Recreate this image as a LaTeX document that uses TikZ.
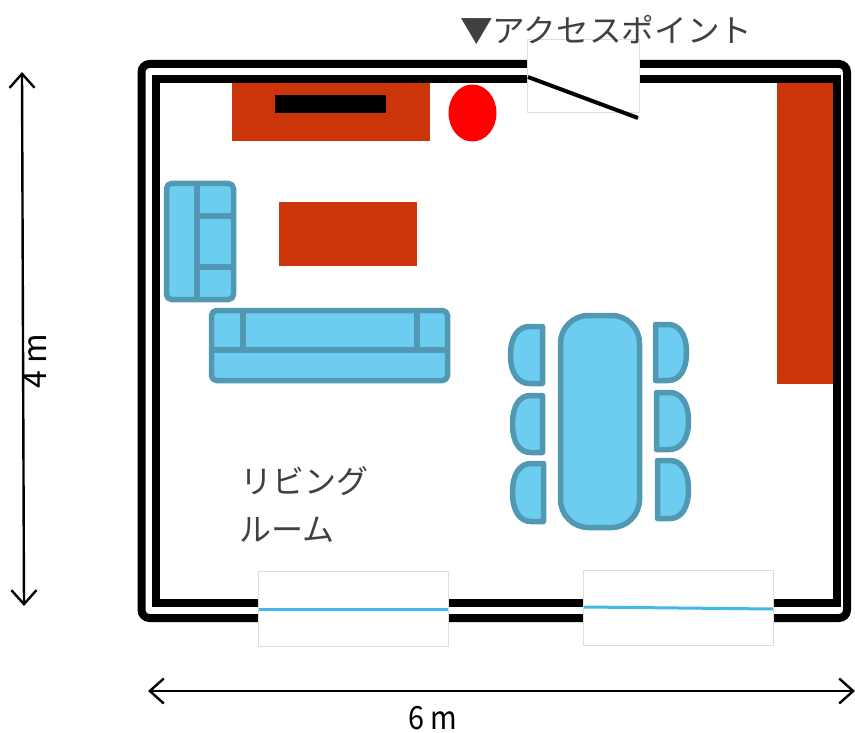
\documentclass[tikz,border=0pt]{standalone}
\usepackage{fontspec}
\usepackage{xcolor}
\usepackage{tikz}
\usetikzlibrary{arrows.meta}
\setmainfont{Noto Sans CJK JP}
\definecolor{RugRed}{HTML}{CC3409}
\definecolor{SofaBlue}{HTML}{6DCDF0}
\definecolor{SofaEdge}{HTML}{5198B3}
\definecolor{GlassBlue}{HTML}{41B8E8}
\definecolor{LabelGray}{HTML}{404040}
\definecolor{GapEdge}{HTML}{DDDDDD}
\newcommand{\chairshape}[4]{%
\pgfmathsetmacro{\xa}{#1+0.4*(#2-#1)}
\pgfmathsetmacro{\xb}{\xa+0.6*(#2-\xa)}
\pgfmathsetmacro{\ym}{(#3+#4)/2}
\pgfmathsetmacro{\ya}{\ym-0.65*(\ym-#3)}
\pgfmathsetmacro{\yb}{\ym+0.65*(#4-\ym)}
\draw[furniture] (#1,#3)--(\xa,#3) .. controls (\xb,#3) and (#2,\ya) .. (#2,\ym)
  .. controls (#2,\yb) and (\xb,#4) .. (\xa,#4)--(#1,#4)--cycle;
}
\begin{document}
\begin{tikzpicture}[x=1pt,y=-1pt,
  wall/.style={line width=8pt, black},
  furniture/.style={line width=5.5pt, SofaEdge, fill=SofaBlue, line join=round},
  divider/.style={line width=6pt, SofaEdge},
  redblock/.style={fill=RugRed},
  gap/.style={draw=GapEdge, line width=0.8pt, fill=white},
  glass/.style={line width=3pt, GlassBlue},
  dimline/.style={line width=2.4pt, black, {Straight Barb[length=14pt,width=25pt]}-{Straight Barb[length=14pt,width=25pt]}},
  jplabel/.style={LabelGray, font=\fontsize{32}{36}\selectfont, inner sep=0pt},
  dimlabel/.style={black, font=\fontsize{32}{34}\selectfont, inner sep=0pt}]
\useasboundingbox (0,0) rectangle (855,733);
% walls
\draw[wall, rounded corners=8pt] (141.5,64) rectangle (847,618);
\draw[wall] (155.5,79.5) rectangle (837,603);
%
\fill[redblock] (232,83) rectangle (430,141);
\fill[black] (275,95) rectangle (386,113);
\fill[red] (472.5,113) ellipse (24 and 28.5);
\fill[redblock] (279,202) rectangle (417,266);
\fill[redblock] (777,83) rectangle (833,384);
% sofa on the left
\draw[furniture, rounded corners=5pt] (166.5,183.5) rectangle (233.5,299.5);
\draw[divider] (197,183.5)--(197,299.5);
\draw[divider] (197,216)--(233.5,216);
\draw[divider] (197,267)--(233.5,267);
% long sofa
\draw[furniture, rounded corners=5pt] (211.5,310.5) rectangle (447.5,380.5);
\draw[divider] (211.5,350)--(447.5,350);
\draw[divider] (243,310.5)--(243,350);
\draw[divider] (417,310.5)--(417,350);
% table and chairs
\draw[furniture, rounded corners=28pt] (560.5,315.5) rectangle (639.5,527.5);
\chairshape{542.5}{510.5}{326.5}{383.5}
\chairshape{542.5}{512.5}{395.5}{452.5}
\chairshape{543.5}{512.5}{463.5}{521.5}
\chairshape{655.5}{686.5}{324.5}{380.5}
\chairshape{656.5}{688.5}{392.5}{449.5}
\chairshape{657.5}{688.5}{460.5}{518.5}
% door
\draw[gap] (527.5,39.5) rectangle (639,112);
\coordinate (hinge) at (528,77);
\coordinate (doorend) at (638,118);
\draw[line width=4pt, black] (hinge)--(doorend);
% windows
\draw[gap] (258.5,571.5) rectangle (448,646);
\draw[gap] (583.5,570.5) rectangle (773,645);
\coordinate (winAl) at (259,609);
\coordinate (winAr) at (448,609);
\coordinate (winBl) at (584,607);
\coordinate (winBr) at (773,609);
\draw[glass] (winAl)--(winAr);
\draw[glass] (winBl)--(winBr);
% dimensions
\coordinate (topend) at (22,72);
\coordinate (botend) at (24,606);
\coordinate (leftend) at (148,691);
\coordinate (rightend) at (855,691);
\draw[dimline] (topend)--(botend);
\draw[dimline] (leftend)--(rightend);
%
\node[jplabel, anchor=west, xscale=1.02] (aplabel) at (460,30) {▼アクセスポイント};
\node[jplabel, anchor=west] (livinga) at (240,481) {リビング};
\node[jplabel, anchor=west] (livingb) at (239,530) {ルーム};
\node[dimlabel, xscale=0.9] (widthlabel) at (433,718) {6 m};
\node[dimlabel, rotate=90] (heightlabel) at (35,361) {4 m};
\end{tikzpicture}
\end{document}
